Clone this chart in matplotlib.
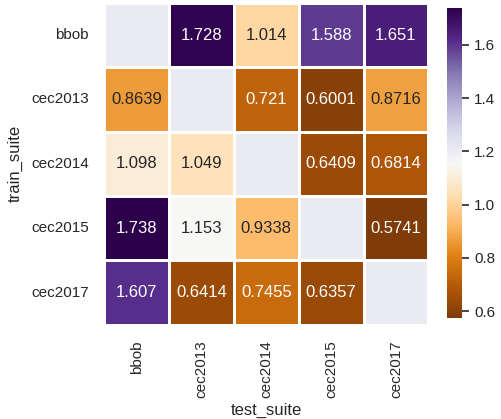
import numpy as np
import pandas as pd
import seaborn as sns
import matplotlib.pyplot as plt

suites = ["bbob", "cec2013", "cec2014", "cec2015", "cec2017"]
bbob_row = [np.nan, 1.728, 1.014, 1.588, 1.651]
cec2013_row = [0.8639, np.nan, 0.721, 0.6001, 0.8716]
cec2014_row = [1.098, 1.049, np.nan, 0.6409, 0.6814]
cec2015_row = [1.738, 1.153, 0.9338, np.nan, 0.5741]
cec2017_row = [1.607, 0.6414, 0.7455, 0.6357, np.nan]

df = pd.DataFrame([bbob_row, cec2013_row, cec2014_row, cec2015_row, cec2017_row],
                  index=suites, columns=suites)
df.index.name = "train_suite"
df.columns.name = "test_suite"

sns.set_theme(style="darkgrid")
plt.rcParams['font.family'] = ['Liberation Sans', 'DejaVu Sans']

fig = plt.figure(figsize=(5.01, 4.19), dpi=100)
ax = fig.add_axes([0.208, 0.225, 0.647, 0.768])
cax = fig.add_axes([0.893, 0.241, 0.030, 0.740])
sns.heatmap(df, ax=ax, cbar_ax=cax, cmap="PuOr", annot=True, fmt=".4g",
            linewidths=2, linecolor="white", annot_kws={"size": 12})
ax.grid(False)
ax.tick_params(length=0, pad=11)
ax.set_xticklabels(ax.get_xticklabels(), rotation=90)
ax.set_yticklabels(ax.get_yticklabels(), rotation=0)
ax.xaxis.labelpad = 4
ax.yaxis.labelpad = 6
cax.tick_params(right=True, length=5, width=1.2, color="#262626")
cax.set_yticks([0.6, 0.8, 1.0, 1.2, 1.4, 1.6])
for s in cax.spines.values():
    s.set_visible(False)

plt.savefig("out.png", dpi=100)
